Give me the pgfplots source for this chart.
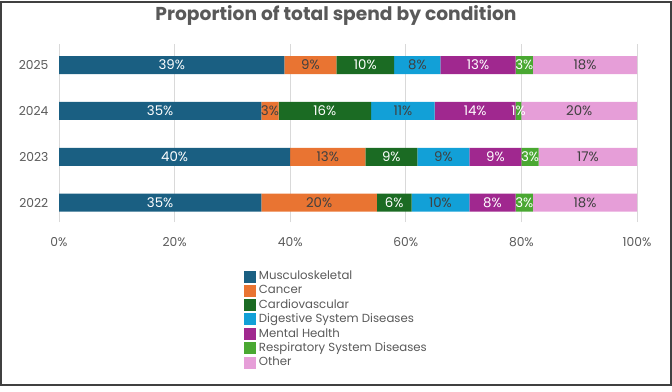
\documentclass[border=0pt]{standalone}
\usepackage{pgfplots}
\pgfplotsset{compat=1.18}
\usepackage{pgfplotstable}
\usepackage{fontspec}
\setmainfont{Poppins}
\definecolor{cMus}{HTML}{1A5F82}
\definecolor{cCan}{HTML}{E97432}
\definecolor{cCar}{HTML}{1B6B23}
\definecolor{cDig}{HTML}{12A0D7}
\definecolor{cMen}{HTML}{A0288F}
\definecolor{cRes}{HTML}{4AA832}
\definecolor{cOth}{HTML}{E69ED8}
\definecolor{framegrey}{HTML}{404040}
\definecolor{titlegrey}{HTML}{595959}
\definecolor{ticklabelgrey}{HTML}{595959}
\definecolor{darklabel}{HTML}{404040}
\definecolor{gridgrey}{HTML}{D9D9D9}

\pgfplotstableread{
y mus can car dig men res oth
0 35 20 6 10 8 3 18
1 40 13 9 9 9 3 17
2 35 3 16 11 14 1 20
3 39 9 10 8 13 3 18
}\data

\newcommand\seg[3]{%
  \addplot[fill=#2, draw=none, point meta=explicit symbolic,
    nodes near coords={\pgfplotspointmeta\%},
    every node near coord/.append style={anchor=center, text=#3}]
    table[x=#1, y=y, meta=#1] {\data};}

\begin{document}
\begin{tikzpicture}
\useasboundingbox (0,0) rectangle (504pt,-294pt);
\draw[line width=1.5pt, color=framegrey] (0.75pt,-1.5pt) rectangle (503.25pt,-288.5pt);
\node[font=\bfseries\fontsize{14}{16}\selectfont, text=titlegrey] at (252pt,-11.5pt) {Proportion of total spend by condition};
\begin{axis}[
  at={(44.25pt,-166.5pt)}, anchor=south west,
  scale only axis, width=433.5pt, height=133.5pt,
  xbar stacked, bar width=13.5pt,
  xmin=0, xmax=100, ymin=-0.42, ymax=3.46,
  xtick={0,20,40,60,80,100},
  xticklabel={\pgfmathprintnumber[fixed,precision=0]{\tick}\%},
  ytick={0,1,2,3}, yticklabels={2022,2023,2024,2025},
  xmajorgrids, major grid style={draw=gridgrey, line width=0.7pt},
  axis line style={draw=none}, major tick length=0pt,
  tick label style={font=\fontsize{9.2}{10}\selectfont, text=ticklabelgrey},
  xticklabel style={yshift=-8pt},
  yticklabel style={xshift=-4.5pt},
  /pgf/number format/assume math mode=true,
  nodes near coords style={font=\fontsize{10}{11}\selectfont},
  legend style={draw=none, fill=none, font=\fontsize{8.8}{10}\selectfont, text=ticklabelgrey,
    at={(axis description cs:0.32,-0.26)}, anchor=north west, row sep=-1.3pt, inner sep=0pt},
  legend cell align=left,
  legend image code/.code={\fill[#1] (0pt,-4.5pt) rectangle (9pt,4.5pt);},
]
\seg{mus}{cMus}{white}
\seg{can}{cCan}{darklabel}
\seg{car}{cCar}{white}
\seg{dig}{cDig}{darklabel}
\seg{men}{cMen}{white}
\seg{res}{cRes}{white}
\seg{oth}{cOth}{darklabel}
\legend{Musculoskeletal,Cancer,Cardiovascular,Digestive System Diseases,Mental Health,Respiratory System Diseases,Other}
\end{axis}
\end{tikzpicture}
\end{document}
